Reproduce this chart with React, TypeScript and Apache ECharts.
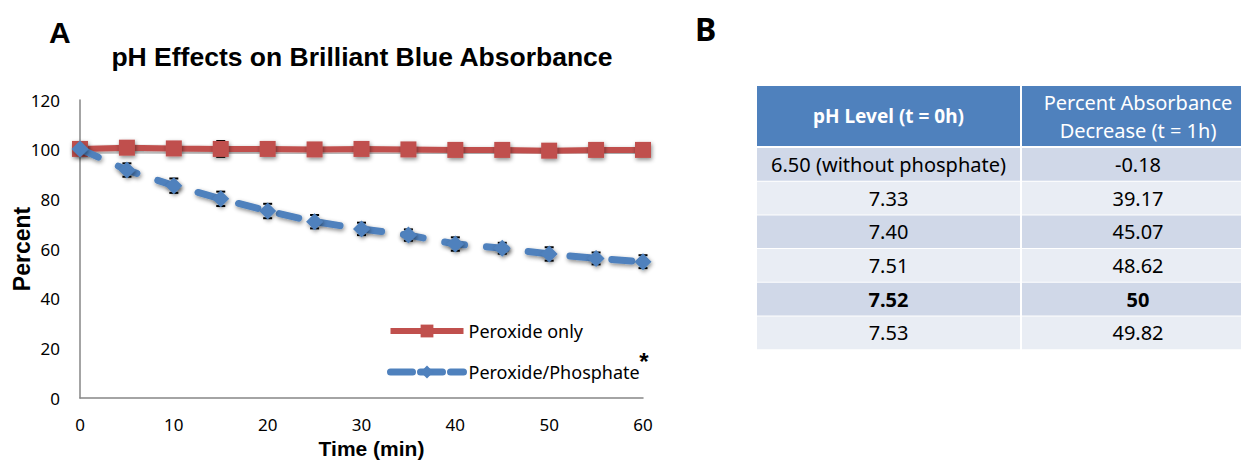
import React, { useEffect, useRef } from "react";
import * as echarts from "echarts";

// ---- Chart A data ----
const times = [0, 5, 10, 15, 20, 25, 30, 35, 40, 45, 50, 55, 60];
const peroxideOnly = [100.3, 100.8, 100.5, 100.3, 100.3, 100.1, 100.3, 100.1, 99.9, 99.9, 99.6, 99.9, 99.9];
const peroxideOnlyErr = [0.5, 0.6, 0.6, 3.2, 0.6, 0.5, 0.5, 0.5, 0.5, 0.5, 0.5, 0.5, 0.5];
const peroxidePhosphate = [100.3, 91.8, 85.5, 80.2, 75.3, 71.0, 68.1, 65.6, 62.0, 60.3, 58.0, 56.2, 54.9];
const peroxidePhosphateErr = [0.5, 2.7, 2.9, 2.9, 2.9, 2.7, 2.5, 2.3, 2.7, 2.2, 2.7, 2.4, 2.6];
const seriesNames = ["Peroxide only", "Peroxide/Phosphate"];

// ---- Table B data ----
const tableHeaders = ["pH Level (t = 0h)", "Percent Absorbance\nDecrease (t = 1h)"];
const phLevels = ["6.50 (without phosphate)", "7.33", "7.40", "7.51", "7.52", "7.53"];
const absorbanceDecrease = ["-0.18", "39.17", "45.07", "48.62", "50", "49.82"];
const boldRowIndex = 4;

const RED = "#C0504D";
const BLUE = "#4F81BD";

function errorSeries(vals: number[], errs: number[], z: number) {
  return {
    type: "custom",
    z,
    silent: true,
    data: times.map((t, i) => [t, vals[i] - errs[i], vals[i] + errs[i]]),
    renderItem: (params: any, api: any) => {
      const lo = api.coord([api.value(0), api.value(1)]);
      const hi = api.coord([api.value(0), api.value(2)]);
      const w = 4.5;
      const st = { stroke: "#000", lineWidth: 2 };
      return {
        type: "group",
        children: [
          { type: "line", shape: { x1: lo[0], y1: lo[1], x2: hi[0], y2: hi[1] }, style: st },
          { type: "line", shape: { x1: lo[0] - w, y1: lo[1], x2: lo[0] + w, y2: lo[1] }, style: st },
          { type: "line", shape: { x1: hi[0] - w, y1: hi[1], x2: hi[0] + w, y2: hi[1] }, style: st },
        ],
      };
    },
  };
}

function buildTable() {
  const els: any[] = [];
  const colX = [757, 1022];
  const colW = [263, 232];
  const headTop = 86;
  const headH = 60;
  const rowTop = 148;
  const rowPitch = 33.7;
  const rowH = 32.7;
  const font = "Noto Sans";
  colX.forEach((x, c) => {
    els.push({ type: "rect", shape: { x, y: headTop, width: colW[c], height: headH }, style: { fill: BLUE } });
    els.push({
      type: "text",
      x: x + colW[c] / 2,
      y: headTop + headH / 2,
      style: {
        text: tableHeaders[c],
        fill: "#fff",
        fontFamily: font,
        fontSize: c === 0 ? 19 : 20,
        fontWeight: c === 0 ? "bold" : "normal",
        lineHeight: 28,
        align: "center",
        verticalAlign: "middle",
      },
    });
  });
  phLevels.forEach((ph, r) => {
    const y = rowTop + r * rowPitch;
    const fill = r % 2 === 0 ? "#D0D8E8" : "#E9EDF4";
    const cells = [ph, absorbanceDecrease[r]];
    colX.forEach((x, c) => {
      els.push({ type: "rect", shape: { x, y, width: colW[c], height: rowH }, style: { fill } });
      els.push({
        type: "text",
        x: x + colW[c] / 2,
        y: y + rowH / 2,
        style: {
          text: cells[c],
          fill: "#000",
          fontFamily: font,
          fontSize: 20,
          fontWeight: r === boldRowIndex ? "bold" : "normal",
          align: "center",
          verticalAlign: "middle",
        },
      });
    });
  });
  return els;
}

export default function App() {
  const ref = useRef<HTMLDivElement>(null);
  useEffect(() => {
    if (!ref.current) return;
    const chart = echarts.init(ref.current, undefined, { renderer: "svg" });
    const shadow = { shadowBlur: 4, shadowColor: "rgba(0,0,0,0.45)", shadowOffsetY: 2, shadowOffsetX: 1 };
    chart.setOption({
      animation: false,
      backgroundColor: "#fff",
      title: {
        text: "pH Effects on Brilliant Blue Absorbance",
        left: 357,
        textAlign: "center",
        top: 38,
        textStyle: { fontFamily: "Liberation Sans", fontWeight: "bold", fontSize: 26.5, color: "#000" },
      },
      grid: { left: 80, top: 100, width: 563, height: 298, containLabel: false, outerBoundsMode: "none" },
      legend: {
        orient: "vertical",
        left: 382,
        top: 317,
        itemWidth: 73,
        itemHeight: 16,
        itemGap: 23,
        data: [
          { name: seriesNames[0], lineStyle: { width: 6 } },
          { name: seriesNames[1], lineStyle: { width: 7, type: [22, 8] } },
        ],
        textStyle: { fontFamily: "Noto Sans", fontSize: 18, color: "#000" },
      },
      xAxis: {
        type: "value",
        min: 0,
        max: 60,
        interval: 10,
        name: "Time (min)",
        nameLocation: "middle",
        nameGap: 40,
        nameMoveOverlap: false,
        nameTextStyle: { fontFamily: "Liberation Sans", fontWeight: "bold", fontSize: 21, color: "#000", padding: [0, 0, 0, 20] },
        axisLine: { lineStyle: { color: "#868686", width: 1.5 } },
        axisTick: { show: false },
        splitLine: { show: false },
        axisLabel: { margin: 18, fontFamily: "Noto Sans", fontSize: 17, color: "#000" },
      },
      yAxis: {
        type: "value",
        min: 0,
        max: 120,
        interval: 20,
        name: "Percent",
        nameLocation: "middle",
        nameGap: 47,
        nameMoveOverlap: false,
        nameRotate: 90,
        nameTextStyle: { fontFamily: "Liberation Sans", fontWeight: "bold", fontSize: 23, color: "#000" },
        axisLine: { show: true, lineStyle: { color: "#868686", width: 1.5 } },
        axisTick: { show: false },
        splitLine: { show: false },
        axisLabel: { margin: 20, fontFamily: "Noto Sans", fontSize: 17, color: "#000" },
      },
      series: [
        errorSeries(peroxideOnly, peroxideOnlyErr, 1),
        errorSeries(peroxidePhosphate, peroxidePhosphateErr, 1),
        {
          name: seriesNames[0],
          type: "line",
          z: 3,
          data: times.map((t, i) => [t, peroxideOnly[i]]),
          symbol: "rect",
          symbolSize: 16,
          lineStyle: { color: RED, width: 6, ...shadow },
          itemStyle: { color: RED, ...shadow },
        },
        {
          name: seriesNames[1],
          type: "line",
          z: 4,
          data: times.map((t, i) => [t, peroxidePhosphate[i]]),
          symbol: "diamond",
          symbolSize: 17,
          lineStyle: { color: BLUE, width: 7, type: [20, 22], cap: "round", ...shadow },
          itemStyle: { color: BLUE, ...shadow },
        },
      ],
      graphic: [
        {
          type: "text",
          x: 49,
          y: 17,
          style: { text: "A", fontFamily: "Liberation Sans", fontWeight: "bold", fontSize: 30, fill: "#000" },
        },
        {
          type: "text",
          x: 695,
          y: 12,
          style: { text: "B", fontFamily: "Noto Sans", fontWeight: "bold", fontSize: 32, fill: "#000" },
        },
        {
          type: "text",
          x: 644,
          y: 361,
          style: { text: "*", fontFamily: "Liberation Sans", fontWeight: "bold", fontSize: 24, fill: "#000", align: "center", verticalAlign: "middle" },
        },
        ...buildTable(),
      ],
    });
    return () => chart.dispose();
  }, []);
  return <div ref={ref} style={{ position: "absolute", left: 0, top: 0, width: 1241, height: 461 }} />;
}
